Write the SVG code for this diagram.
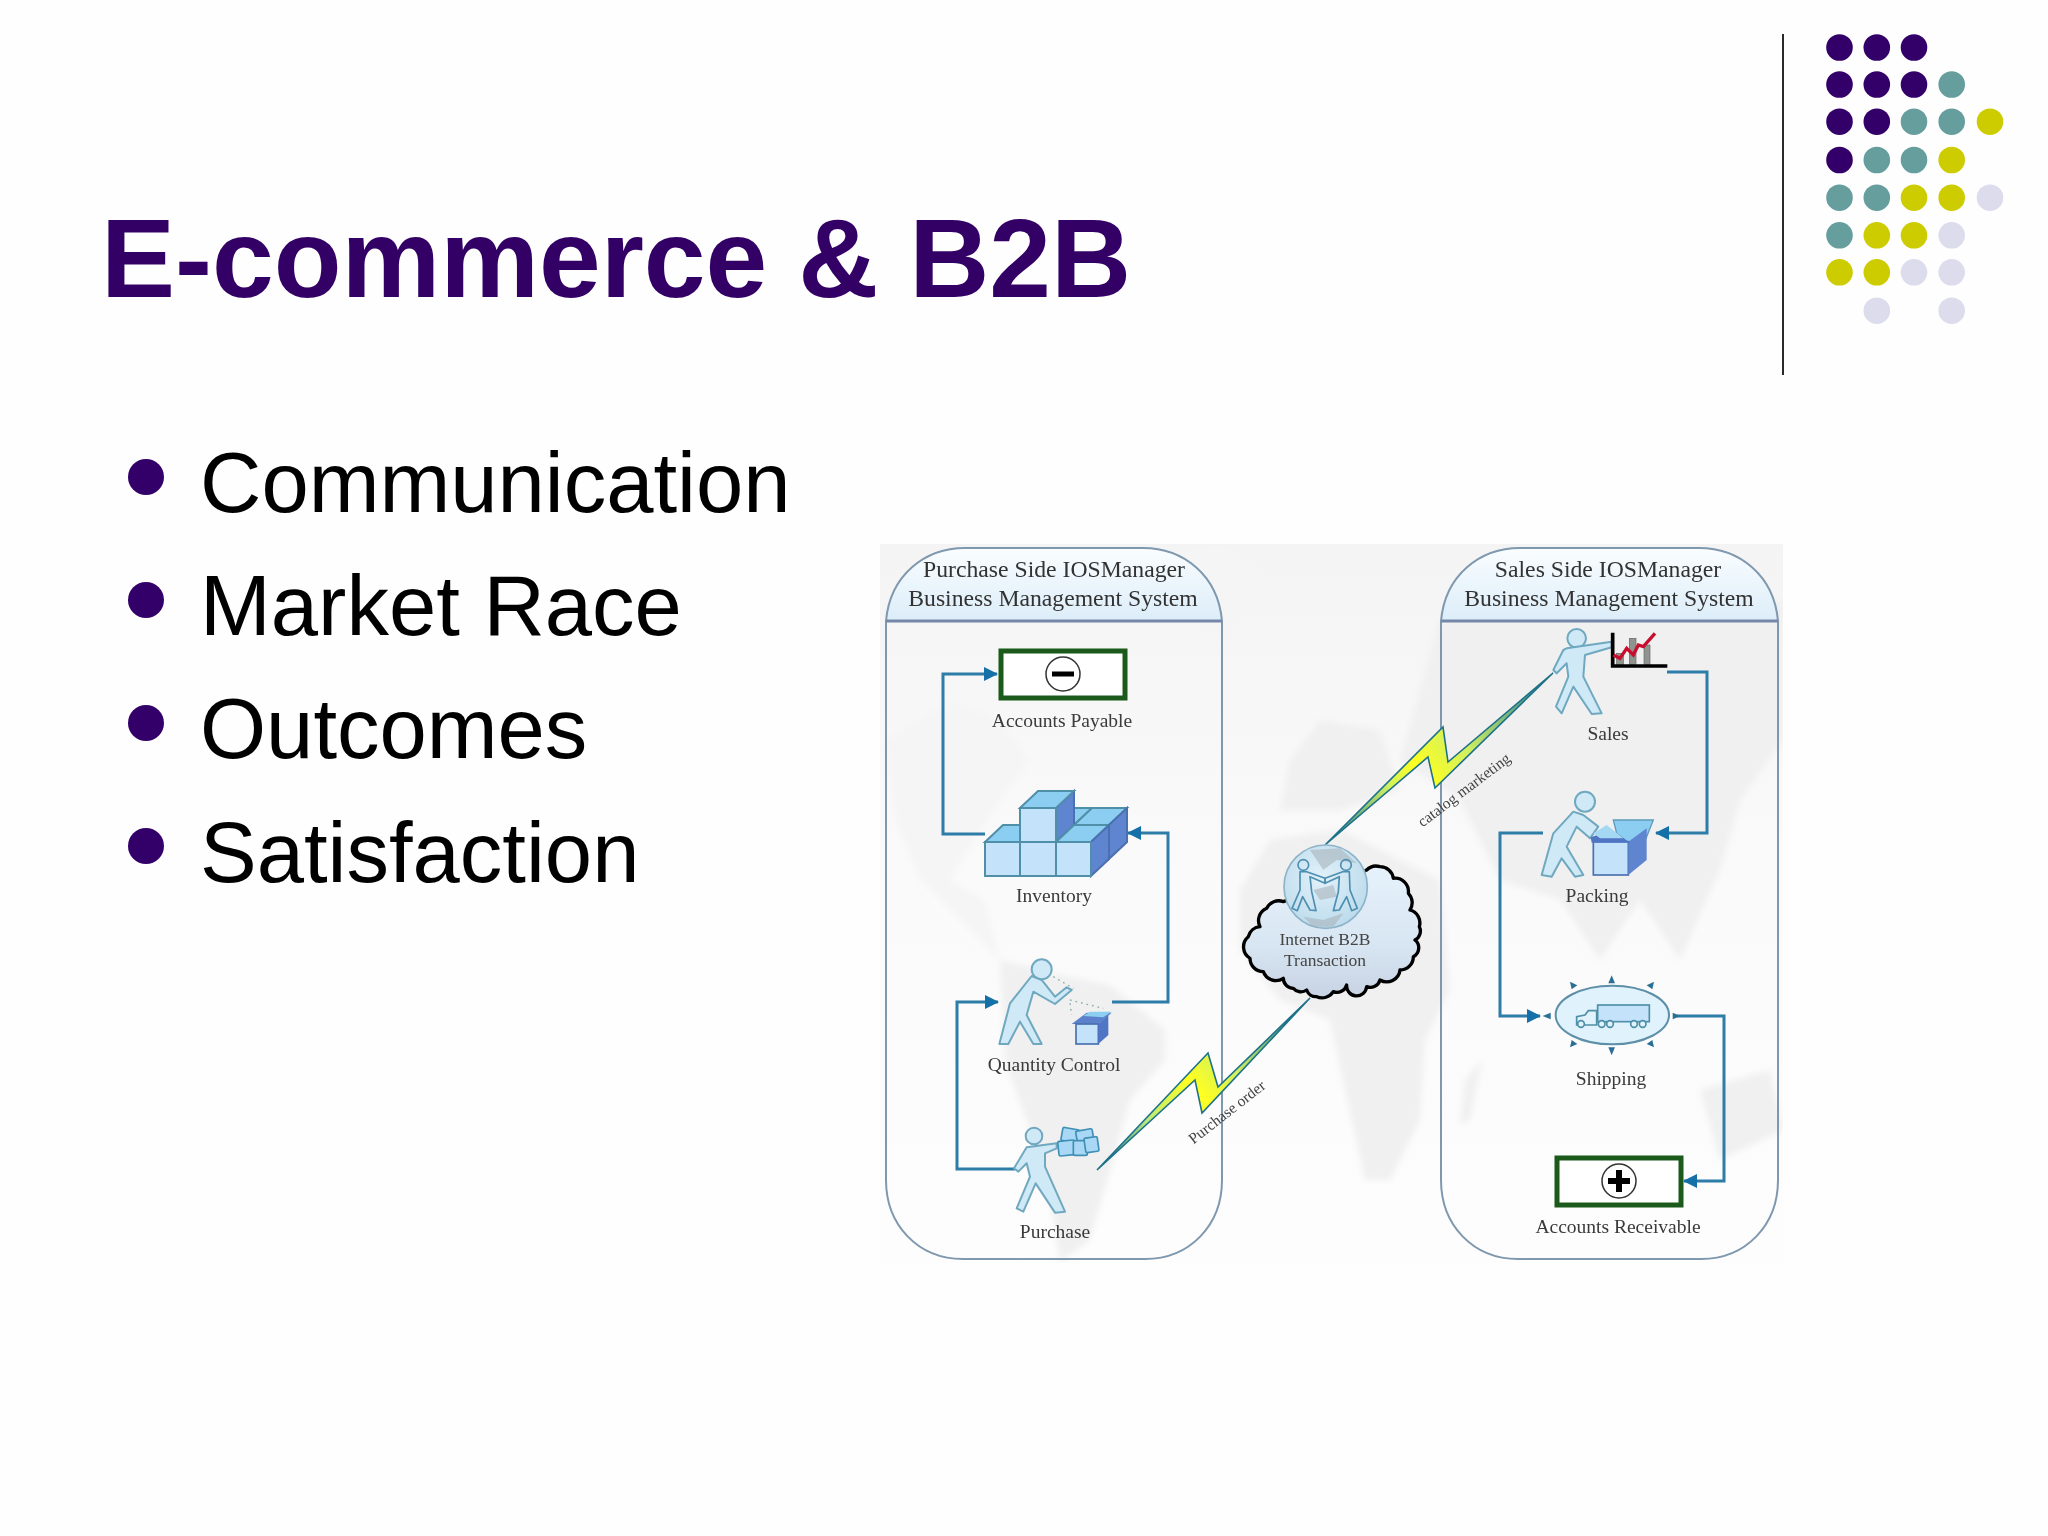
<svg xmlns="http://www.w3.org/2000/svg" width="2048" height="1536" viewBox="0 0 2048 1536">
<style>
.bt{font-family:"Liberation Sans",Arial,sans-serif;font-size:85px;fill:#000}
.ti{font-family:"Liberation Sans",Arial,sans-serif;font-size:111px;font-weight:bold;fill:#330066}
.lb{font-family:"Liberation Serif","Times New Roman",serif;font-size:19.5px;fill:#3a3a3a;text-anchor:middle}
.hd{font-family:"Liberation Serif","Times New Roman",serif;font-size:23.7px;fill:#333;text-anchor:middle}
.cl{font-family:"Liberation Serif","Times New Roman",serif;font-size:17.5px;fill:#444;text-anchor:middle}
.rt{font-family:"Liberation Serif","Times New Roman",serif;font-size:15.5px;fill:#444;text-anchor:middle}
.p{fill:#33006a}.t{fill:#669e9e}.y{fill:#cccc00}.l{fill:#dcdcec}
.panel{fill:none;stroke:#7f98ae;stroke-width:2}
.hline{stroke:#7488a8;stroke-width:3}
.conn{fill:none;stroke:#2f7ca8;stroke-width:3;marker-end:url(#arr)}
.fig{fill:#cfe9f7;stroke:#6fa8c0;stroke-width:6;stroke-linejoin:round}
.boxf{fill:#c4e3fa;stroke:#4f8fa8;stroke-width:2}
.boxs{fill:#5f85d0;stroke:#4a70b0;stroke-width:2}
.boxt{fill:#8ccdf2;stroke:#4f8fa8;stroke-width:2}
.acct{fill:#fff;stroke:#1c5a1c;stroke-width:5}
.sm{fill:#2b6f94}
.bolt{stroke:#1f7288;stroke-width:1.6}
.soft{filter:url(#img)}
</style>
<defs>
<marker id="arr" markerUnits="userSpaceOnUse" markerWidth="14" markerHeight="14" refX="13" refY="7" orient="auto"><path d="M0 0L14 7L0 14Z" fill="#1670a8"/></marker>
<filter id="map-blur" x="-5%" y="-5%" width="110%" height="110%"><feGaussianBlur stdDeviation="3"/></filter>
<filter id="img" x="-5%" y="-5%" width="110%" height="110%"><feGaussianBlur stdDeviation=".55"/></filter>
<linearGradient id="hdr" x1="0" y1="0" x2="0" y2="1"><stop offset="0" stop-color="#fafdff"/><stop offset="1" stop-color="#dcedf9"/></linearGradient>
<linearGradient id="bg" x1="0" y1="0" x2="0" y2="1"><stop offset="0" stop-color="#f4f4f4"/><stop offset=".45" stop-color="#fafafa"/><stop offset="1" stop-color="#fdfdfd"/></linearGradient>
<linearGradient id="cloudg" x1="0" y1="0" x2="0" y2="1"><stop offset="0" stop-color="#e6f2fb"/><stop offset=".6" stop-color="#d8e6f3"/><stop offset="1" stop-color="#c7d2e2"/></linearGradient>
<radialGradient id="globe" cx=".45" cy=".4" r=".7"><stop offset="0" stop-color="#e2f1fa"/><stop offset="1" stop-color="#b7d8ea"/></radialGradient>
<linearGradient id="b1" gradientUnits="userSpaceOnUse" x1="1097" y1="1170" x2="1310" y2="998"><stop offset="0" stop-color="#1a70a0"/><stop offset=".25" stop-color="#b8e880"/><stop offset=".47" stop-color="#ffff20"/><stop offset=".62" stop-color="#d0f060"/><stop offset="1" stop-color="#1a70a0"/></linearGradient>
<linearGradient id="b2" gradientUnits="userSpaceOnUse" x1="1325" y1="845" x2="1553" y2="673"><stop offset="0" stop-color="#1a70a0"/><stop offset=".3" stop-color="#d0f060"/><stop offset=".42" stop-color="#ffff20"/><stop offset=".6" stop-color="#d0f060"/><stop offset="1" stop-color="#1a70a0"/></linearGradient>
<clipPath id="pic"><rect x="880" y="544" width="903" height="719"/></clipPath>
</defs>

<rect width="2048" height="1536" fill="#fefefe"/>

<g id="title"><text class="ti" x="101" y="297">E-commerce &amp; B2B</text></g>

<g id="bullets">
<circle cx="146" cy="477" r="18" class="p"/><text class="bt" x="200" y="512">Communication</text>
<circle cx="146" cy="600" r="18" class="p"/><text class="bt" x="200" y="635">Market Race</text>
<circle cx="146" cy="723" r="18" class="p"/><text class="bt" x="200" y="758">Outcomes</text>
<circle cx="146" cy="846" r="18" class="p"/><text class="bt" x="200" y="882">Satisfaction</text>
</g>

<g id="decor">
<line x1="1783" y1="34" x2="1783" y2="375" stroke="#2a2a2a" stroke-width="2"/>
<circle cx="1839.5" cy="47.5" r="13.3" class="p"/><circle cx="1876.8" cy="47.5" r="13.3" class="p"/><circle cx="1914" cy="47.5" r="13.3" class="p"/>
<circle cx="1839.5" cy="84.5" r="13.3" class="p"/><circle cx="1876.8" cy="84.5" r="13.3" class="p"/><circle cx="1914" cy="84.5" r="13.3" class="p"/><circle cx="1951.7" cy="84.5" r="13.3" class="t"/>
<circle cx="1839.5" cy="121.7" r="13.3" class="p"/><circle cx="1876.8" cy="121.7" r="13.3" class="p"/><circle cx="1914" cy="121.7" r="13.3" class="t"/><circle cx="1951.7" cy="121.7" r="13.3" class="t"/><circle cx="1990" cy="121.7" r="13.3" class="y"/>
<circle cx="1839.5" cy="160" r="13.3" class="p"/><circle cx="1876.8" cy="160" r="13.3" class="t"/><circle cx="1914" cy="160" r="13.3" class="t"/><circle cx="1951.7" cy="160" r="13.3" class="y"/>
<circle cx="1839.5" cy="197.7" r="13.3" class="t"/><circle cx="1876.8" cy="197.7" r="13.3" class="t"/><circle cx="1914" cy="197.7" r="13.3" class="y"/><circle cx="1951.7" cy="197.7" r="13.3" class="y"/><circle cx="1990" cy="197.7" r="13.3" class="l"/>
<circle cx="1839.5" cy="235.3" r="13.3" class="t"/><circle cx="1876.8" cy="235.3" r="13.3" class="y"/><circle cx="1914" cy="235.3" r="13.3" class="y"/><circle cx="1951.7" cy="235.3" r="13.3" class="l"/>
<circle cx="1839.5" cy="272.3" r="13.3" class="y"/><circle cx="1876.8" cy="272.3" r="13.3" class="y"/><circle cx="1914" cy="272.3" r="13.3" class="l"/><circle cx="1951.7" cy="272.3" r="13.3" class="l"/>
<circle cx="1876.8" cy="310.7" r="13.3" class="l"/><circle cx="1951.7" cy="310.7" r="13.3" class="l"/>
</g>

<g id="map" clip-path="url(#pic)">
<rect x="880" y="544" width="903" height="719" fill="url(#bg)"/>
<g fill="#f0f0f0" filter="url(#map-blur)">
<path d="M1000 960L1060 975L1110 985L1165 1030L1165 1060L1130 1100L1110 1170L1090 1240L1060 1262L1050 1200L1030 1130L1005 1060Z"/>
<path d="M885 740L950 700L1000 720L1030 760L1000 800L950 880L985 900L1000 960L960 920L920 880L895 820Z" fill="#f5f5f5"/>
<path d="M1150 560L1220 545L1260 570L1230 640L1180 620Z" fill="#f5f5f5"/>
<path d="M1270 840L1340 830L1380 850L1440 880L1450 990L1425 1040L1420 1120L1390 1180L1365 1180L1345 1090L1330 1020L1280 1000L1240 950L1240 890Z"/>
<path d="M1280 810L1290 760L1320 720L1380 730L1400 790L1340 810Z"/>
<path d="M1440 620L1600 600L1783 600L1783 740L1740 800L1720 870L1680 960L1640 900L1600 960L1560 900L1500 880L1460 800L1400 760Z"/>
<path d="M1700 1090L1770 1070L1783 1130L1720 1160Z"/>
<path d="M1465 1080L1482 1060L1470 1120L1460 1125Z"/>
</g>
</g>

<g id="purchase-side" class="soft">
<path d="M886 621C890 575 925 548 965 548H1143C1183 548 1218 575 1222 621Z" fill="url(#hdr)"/>
<path class="panel" d="M886 621C890 575 925 548 965 548H1143C1183 548 1218 575 1222 621V1180C1222 1225 1190 1259 1145 1259H963C918 1259 886 1225 886 1180Z"/>
<line class="hline" x1="886" y1="621" x2="1222" y2="621"/>
<text class="hd" x="1054" y="577">Purchase Side IOSManager</text>
<text class="hd" x="1053" y="606">Business Management System</text>
</g>

<g id="sales-side" class="soft">
<path d="M1441 621C1445 575 1480 548 1520 548H1699C1739 548 1774 575 1778 621Z" fill="url(#hdr)"/>
<path class="panel" d="M1441 621C1445 575 1480 548 1520 548H1699C1739 548 1774 575 1778 621V1180C1778 1225 1746 1259 1701 1259H1518C1473 1259 1441 1225 1441 1180Z"/>
<line class="hline" x1="1441" y1="621" x2="1778" y2="621"/>
<text class="hd" x="1608" y="577">Sales Side IOSManager</text>
<text class="hd" x="1609" y="606">Business Management System</text>
</g>

<g id="connectors" class="soft">
<path class="conn" d="M985 834H943V674H997"/>
<path class="conn" d="M1112 1002H1168V833H1128"/>
<path class="conn" d="M1015 1169H957V1002H998"/>
<path class="conn" d="M1667 672H1707V833H1656"/>
<path class="conn" d="M1543 833H1500V1016H1540"/>
<path class="conn" d="M1677 1016H1724V1181H1684"/>
<polygon class="bolt" fill="url(#b1)" points="1097,1170 1208,1053 1218,1087 1310,998 1202,1113 1195,1080"/>
<polygon class="bolt" fill="url(#b2)" points="1325,845 1443,727 1448,762 1553,673 1435,788 1428,757"/>
<text class="rt" transform="translate(1230 1116) rotate(-38)">Purchase order</text>
<text class="rt" transform="translate(1467 794) rotate(-37)">catalog marketing</text>
</g>

<g id="accounts-payable" class="soft">
<rect class="acct" x="1001" y="651" width="124" height="47"/>
<circle cx="1063" cy="674" r="17" fill="#fff" stroke="#333" stroke-width="1.5"/>
<rect x="1052" y="671.500" width="22" height="5" fill="#000"/>
<text class="lb" x="1062" y="727">Accounts Payable</text>
</g>

<g id="inventory" class="soft">
<polygon class="boxt" points="1056,808 1092,808 1074,825"/>
<polygon class="boxt" points="1074,825 1109,825 1127,808 1092,808"/>
<polygon class="boxs" points="1109,825 1127,808 1127,842 1109,859"/>
<polygon class="boxt" points="985,842 1020,842 1020,825 1003,825"/>
<polygon class="boxs" points="1056,808 1074,791 1074,825 1056,842"/>
<polygon class="boxt" points="1020,808 1056,808 1074,791 1038,791"/>
<rect class="boxf" x="1020" y="808" width="36" height="34"/>
<polygon class="boxt" points="1056,842 1091,842 1109,825 1074,825"/>
<polygon class="boxs" points="1091,842 1109,825 1109,859 1091,876"/>
<rect class="boxf" x="985" y="842" width="35" height="34"/>
<rect class="boxf" x="1020" y="842" width="36" height="34"/>
<rect class="boxf" x="1056" y="842" width="35" height="34"/>
<text class="lb" x="1054" y="902">Inventory</text>
</g>

<g id="quantity-control" class="soft">
<g transform="translate(870 900) scale(.33333)">
<circle class="fig" cx="515" cy="208" r="30"/>
<path class="fig" d="M485 228L420 310L388 432L415 432L450 365L490 432L515 432L470 345L490 275L555 312L605 270L590 262L555 290L515 240Z"/>
<path d="M550 230L610 265M600 300L700 325M600 310L605 345" fill="none" stroke="#8aa" stroke-width="4" stroke-dasharray="5 12"/>
<polygon points="605,372 685,372 725,338 650,338" fill="#5b80cc"/>
<polygon points="640,348 660,335 725,335 700,352" fill="#8ccff0"/>
<rect x="618" y="372" width="67" height="60" fill="#c4e3fa" stroke="#4a70b0" stroke-width="5"/>
<polygon points="685,372 715,345 715,405 685,432" fill="#4f74c4"/>
</g>
<text class="lb" x="1054" y="1071">Quantity Control</text>
</g>

<g id="purchase" class="soft">
<g transform="translate(870 900) scale(.33333)">
<circle class="fig" cx="492" cy="708" r="25"/>
<path class="fig" d="M470 742L560 730L560 745L525 760L525 800L585 935L555 938L497 850L460 935L440 925L480 830L470 790L445 815L432 805L465 750Z"/>
<g fill="#a8d8f5" stroke="#3f8fb5" stroke-width="5" stroke-linejoin="round">
<rect x="575" y="685" width="50" height="40" rx="5" transform="rotate(10 597 707)"/>
<rect x="620" y="690" width="50" height="40" rx="5" transform="rotate(-10 642 712)"/>
<rect x="565" y="722" width="50" height="44" rx="5" transform="rotate(-6 590 744)"/>
<rect x="610" y="722" width="42" height="44" rx="5"/>
<rect x="645" y="712" width="40" height="44" rx="5" transform="rotate(-8 665 738)"/>
</g>
</g>
<text class="lb" x="1055" y="1238">Purchase</text>
</g>

<g id="internet" class="soft">
<path d="M610 605A40 40 0 0 0 560 625A40 40 0 0 0 540 680A40 40 0 0 0 505 710A40 40 0 0 0 510 775A40 40 0 0 0 550 815A40 40 0 0 0 610 835A30 30 0 0 0 640 865A30 30 0 0 0 680 870A30 30 0 0 0 710 890A40 40 0 0 0 760 875A30 30 0 0 0 800 855A30 30 0 0 0 860 860A30 30 0 0 0 900 840A40 40 0 0 0 960 810A40 40 0 0 0 1000 770A30 30 0 0 0 1005 720A30 30 0 0 0 1018 680A40 40 0 0 0 990 630A40 40 0 0 0 985 580A40 40 0 0 0 940 535A40 40 0 0 0 900 500A40 40 0 0 0 860 510L740 560Z" transform="translate(1080 700) scale(.33333)" fill="url(#cloudg)" stroke="#000" stroke-width="10" stroke-linejoin="round"/>
<g transform="translate(1080 700) scale(.33333)">
<circle cx="737" cy="560" r="125" fill="url(#globe)" stroke="#8db4c8" stroke-width="5"/>
<path d="M690 450L780 445L830 490L770 480L730 510ZM700 570L760 555L770 590L720 600ZM670 650L730 660L790 640L760 680L700 680Z" fill="#a9b4ba" opacity=".6"/>
<g fill="none" stroke="#4d8fb0" stroke-width="5" stroke-linejoin="round">
<circle cx="670" cy="495" r="16"/><circle cx="798" cy="495" r="16"/>
<path d="M660 515L680 515L735 535L735 550L690 530L695 575L708 632L690 630L668 590L652 632L636 625L660 570Z"/>
<path d="M808 515L788 515L735 535L735 550L778 530L775 575L760 632L778 630L800 590L815 632L832 625L810 570Z"/>
</g>
</g>
<text class="cl" x="1325" y="945">Internet B2B</text>
<text class="cl" x="1325" y="966">Transaction</text>
</g>

<g id="sales" class="soft">
<g transform="translate(1420 530) scale(.33333)">
<circle class="fig" cx="470" cy="325" r="28"/>
<path class="fig" d="M440 355L575 335L575 352L495 375L490 440L545 550L515 552L460 470L425 550L408 530L445 440L440 400L410 430L400 420L430 360Z"/>
<g fill="#8f948f" stroke="#666" stroke-width="2"><rect x="590" y="370" width="20" height="36"/><rect x="628" y="325" width="20" height="81"/><rect x="672" y="345" width="18" height="61"/></g>
<path d="M578 308V408H742" fill="none" stroke="#000" stroke-width="11"/>
<path d="M580 375L600 385L620 355L640 375L655 345L670 350L705 310" fill="none" stroke="#c8102e" stroke-width="10"/>
</g>
<text class="lb" x="1608" y="740">Sales</text>
</g>

<g id="packing" class="soft">
<g transform="translate(1420 530) scale(.33333)">
<circle class="fig" cx="495" cy="815" r="30"/>
<path class="fig" d="M460 845L400 910L365 1035L395 1040L425 985L465 1040L490 1035L440 950L470 890L510 925L535 890L490 855Z"/>
<polygon points="580,870 700,870 678,925 625,938 590,910" fill="#8ccdf2" stroke="#5d9db8" stroke-width="4"/>
<rect x="520" y="935" width="105" height="100" fill="#c4e3fa" stroke="#4a70b0" stroke-width="5"/>
<polygon points="625,935 680,895 680,990 625,1035" fill="#5f85d0"/>
<polygon points="512,922 575,900 630,938 515,938" fill="#4f74c4"/>
<polygon points="520,910 560,885 610,925 540,925" fill="#a5d8f2"/>
</g>
<text class="lb" x="1597" y="902">Packing</text>
</g>

<g id="shipping" class="soft">
<g transform="translate(1420 900) scale(.33333)">
<ellipse cx="577" cy="345" rx="170" ry="88" fill="#e0f2fb" stroke="#5d8fa8" stroke-width="6"/>
<rect x="533" y="315" width="155" height="50" fill="#c4e3fa" stroke="#4f8fa8" stroke-width="5"/>
<path d="M470 375V350L495 345L505 332H530V375Z" fill="#e0f2fb" stroke="#4f8fa8" stroke-width="5"/>
<g fill="#e0f2fb" stroke="#4f8fa8" stroke-width="5"><circle cx="483" cy="372" r="10"/><circle cx="545" cy="372" r="10"/><circle cx="570" cy="372" r="10"/><circle cx="642" cy="372" r="10"/><circle cx="668" cy="372" r="10"/></g>
<g class="sm">
<polygon points="575,226 585,250 565,250"/><polygon points="575,466 585,442 565,442"/>
<polygon points="368,348 392,338 392,358"/><polygon points="782,348 758,338 758,358"/>
<polygon points="450,245 472,256 455,268"/><polygon points="702,245 680,256 697,268"/>
<polygon points="450,442 472,432 455,420"/><polygon points="702,442 680,432 697,420"/>
</g>
</g>
<text class="lb" x="1611" y="1085">Shipping</text>
</g>

<g id="accounts-receivable" class="soft">
<rect class="acct" x="1557" y="1158" width="124" height="47"/>
<circle cx="1619" cy="1181" r="17" fill="#fff" stroke="#333" stroke-width="1.5"/>
<path d="M1608 1181H1630M1619 1170V1192" stroke="#000" stroke-width="6" fill="none"/>
<text class="lb" x="1618" y="1233">Accounts Receivable</text>
</g>
</svg>
